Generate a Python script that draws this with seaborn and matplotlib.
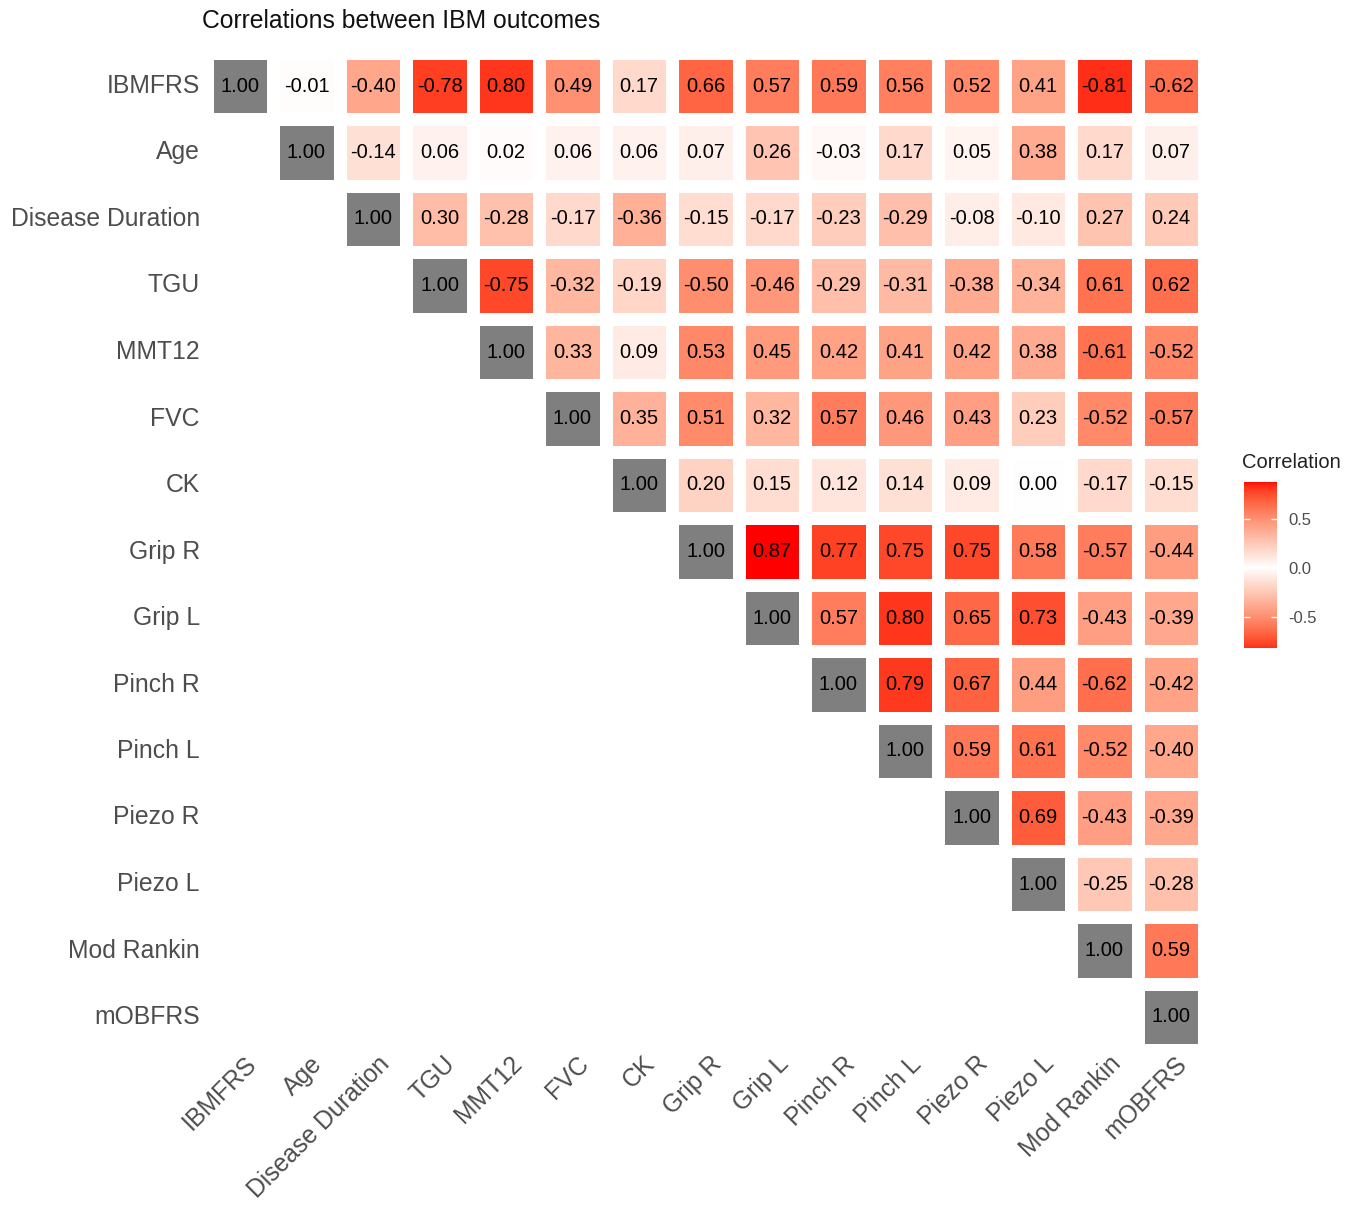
import numpy as np
import pandas as pd
import matplotlib
matplotlib.use("Agg")
import matplotlib.pyplot as plt
import matplotlib.transforms as mtransforms
import seaborn as sns
from matplotlib.colors import ListedColormap, Normalize

variables = ["IBMFRS", "Age", "Disease Duration", "TGU", "MMT12", "FVC", "CK",
             "Grip R", "Grip L", "Pinch R", "Pinch L", "Piezo R", "Piezo L",
             "Mod Rankin", "mOBFRS"]

# upper-triangle rows (from the diagonal to the right)
r_ibmfrs = [1.00, -0.01, -0.40, -0.78, 0.80, 0.49, 0.17, 0.66, 0.57, 0.59, 0.56, 0.52, 0.41, -0.81, -0.62]
r_age = [1.00, -0.14, 0.06, 0.02, 0.06, 0.06, 0.07, 0.26, -0.03, 0.17, 0.05, 0.38, 0.17, 0.07]
r_disease = [1.00, 0.30, -0.28, -0.17, -0.36, -0.15, -0.17, -0.23, -0.29, -0.08, -0.10, 0.27, 0.24]
r_tgu = [1.00, -0.75, -0.32, -0.19, -0.50, -0.46, -0.29, -0.31, -0.38, -0.34, 0.61, 0.62]
r_mmt12 = [1.00, 0.33, 0.09, 0.53, 0.45, 0.42, 0.41, 0.42, 0.38, -0.61, -0.52]
r_fvc = [1.00, 0.35, 0.51, 0.32, 0.57, 0.46, 0.43, 0.23, -0.52, -0.57]
r_ck = [1.00, 0.20, 0.15, 0.12, 0.14, 0.09, 0.00, -0.17, -0.15]
r_gripr = [1.00, 0.87, 0.77, 0.75, 0.75, 0.58, -0.57, -0.44]
r_gripl = [1.00, 0.57, 0.80, 0.65, 0.73, -0.43, -0.39]
r_pinchr = [1.00, 0.79, 0.67, 0.44, -0.62, -0.42]
r_pinchl = [1.00, 0.59, 0.61, -0.52, -0.40]
r_piezor = [1.00, 0.69, -0.43, -0.39]
r_piezol = [1.00, -0.25, -0.28]
r_modrankin = [1.00, 0.59]
r_mobfrs = [1.00]

rows = [r_ibmfrs, r_age, r_disease, r_tgu, r_mmt12, r_fvc, r_ck, r_gripr,
        r_gripl, r_pinchr, r_pinchl, r_piezor, r_piezol, r_modrankin, r_mobfrs]

n = len(variables)
mat = np.full((n, n), np.nan)
for i, row in enumerate(rows):
    mat[i, i:] = row
df = pd.DataFrame(mat, index=variables, columns=variables)

# ---- Lab interpolated white -> red palette (ggplot-like) ----
def srgb_to_lab(rgb):
    rgb = np.asarray(rgb, float)
    lin = np.where(rgb <= 0.04045, rgb / 12.92, ((rgb + 0.055) / 1.055) ** 2.4)
    M = np.array([[0.4124564, 0.3575761, 0.1804375],
                  [0.2126729, 0.7151522, 0.0721750],
                  [0.0193339, 0.1191920, 0.9503041]])
    xyz = M @ lin
    wp = np.array([0.95047, 1.0, 1.08883])
    t = xyz / wp
    f = np.where(t > (6 / 29) ** 3, np.cbrt(t), t / (3 * (6 / 29) ** 2) + 4 / 29)
    return np.array([116 * f[1] - 16, 500 * (f[0] - f[1]), 200 * (f[1] - f[2])])

def lab_to_srgb(lab):
    L, a, b = lab
    fy = (L + 16) / 116
    fx = fy + a / 500
    fz = fy - b / 200
    def finv(f):
        return np.where(f > 6 / 29, f ** 3, 3 * (6 / 29) ** 2 * (f - 4 / 29))
    wp = np.array([0.95047, 1.0, 1.08883])
    xyz = np.array([finv(fx), finv(fy), finv(fz)]) * wp
    Minv = np.array([[3.2404542, -1.5371385, -0.4985314],
                     [-0.9692660, 1.8760108, 0.0415560],
                     [0.0556434, -0.2040259, 1.0572252]])
    lin = np.clip(Minv @ xyz, 0, 1)
    rgb = np.where(lin <= 0.0031308, 12.92 * lin, 1.055 * lin ** (1 / 2.4) - 0.055)
    return np.clip(rgb, 0, 1)

lab_w = srgb_to_lab([1, 1, 1])
lab_r = srgb_to_lab([1, 0, 0])
N = 256
cols = []
for t in np.linspace(-1, 1, N):
    s = abs(t)
    cols.append(lab_to_srgb(lab_w + (lab_r - lab_w) * s))
cmap = ListedColormap(cols)

off = df.values.copy()
np.fill_diagonal(off, np.nan)
lim = np.nanmax(np.abs(off))
norm = Normalize(vmin=-lim, vmax=lim)

diag_mask = ~np.eye(n, dtype=bool)
off_mask = np.isnan(off)

W, H = 1358, 1205
fig = plt.figure(figsize=(W / 100, H / 100), dpi=100)
fig.patch.set_facecolor("white")
ax = fig.add_axes([206.75 / W, 1 - 1050.25 / H, 997.5 / W, 997.5 / H])

plt.rcParams["font.family"] = ["Liberation Sans", "DejaVu Sans"]

gap = 9.0
akw = {"color": "black", "fontsize": 14.5, "family": "Liberation Sans"}
sns.heatmap(df.where(~off_mask), mask=off_mask, cmap=cmap, vmin=-lim, vmax=lim,
            annot=True, fmt=".2f", annot_kws=akw,
            linewidths=gap, linecolor="white", cbar=False, square=False, ax=ax)
sns.heatmap(df, mask=diag_mask, cmap=ListedColormap(["#7F7F7F"]),
            annot=True, fmt=".2f", annot_kws=akw,
            linewidths=gap, linecolor="white", cbar=False, ax=ax)

ax.set_xlabel("")
ax.set_ylabel("")
ax.set_xticks(np.arange(n) + 0.5)
ax.set_yticks(np.arange(n) + 0.5)
ax.set_xticklabels(variables, rotation=45, ha="right", va="top",
                   rotation_mode="anchor", fontsize=17.8, color="#4D4D4D",
                   family="Liberation Sans")
ax.set_yticklabels(variables, rotation=0, fontsize=17.8, color="#4D4D4D",
                   family="Liberation Sans")
ax.tick_params(axis="both", length=0)
ax.tick_params(axis="x", pad=4)
ax.tick_params(axis="y", pad=5)
shift = mtransforms.ScaledTranslation(4 / 100, 4 / 100, fig.dpi_scale_trans)
for lab in ax.get_xticklabels():
    lab.set_transform(lab.get_transform() + shift)
for sp in ax.spines.values():
    sp.set_visible(False)

fig.text(202 / W, 1 - 21 / H, "Correlations between IBM outcomes", fontsize=17.8,
         ha="left", va="center", color="#111111", family="Liberation Sans")

# colour bar
vmin_d, vmax_d = np.nanmin(off), np.nanmax(off)
cax = fig.add_axes([1244 / W, 1 - 648 / H, 33 / W, 166 / H])
grad = np.linspace(vmin_d, vmax_d, 300).reshape(-1, 1)
cax.imshow(grad, cmap=cmap, norm=norm, aspect="auto", origin="lower",
           extent=[0, 1, vmin_d, vmax_d])
cax.set_xlim(0, 1)
cax.set_ylim(vmin_d, vmax_d)
cax.set_xticks([])
cax.set_yticks([-0.5, 0.0, 0.5])
cax.set_yticklabels(["-0.5", "0.0", "0.5"], fontsize=12, color="#4D4D4D",
                    family="Liberation Sans")
cax.tick_params(axis="y", direction="in", length=4, width=1, color="white",
                left=True, right=True, labelleft=False, labelright=True, pad=8)
for sp in cax.spines.values():
    sp.set_visible(False)
cax.text(-0.05, 1.06, "Correlation", transform=cax.transAxes, ha="left",
         va="bottom", fontsize=14.5, color="#222222", family="Liberation Sans")

fig.savefig("out.png", dpi=100, facecolor="white")
